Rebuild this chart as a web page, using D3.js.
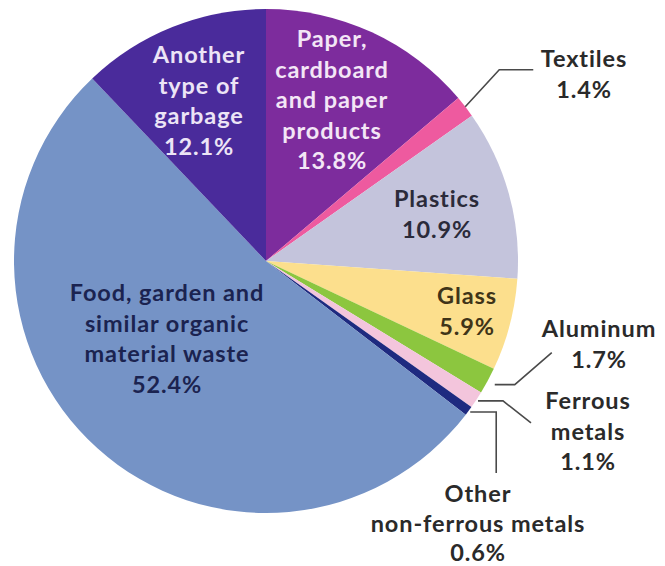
<!DOCTYPE html>
<html>
<head>
<meta charset="utf-8">
<script src="https://cdn.jsdelivr.net/npm/d3@7/dist/d3.min.js"></script>
<style>
  html, body { margin: 0; padding: 0; background: #ffffff; }
  svg { display: block; }
  text { font-family: Lato, "Open Sans", sans-serif; font-weight: bold; }
</style>
</head>
<body>
<svg id="chart" width="665" height="566"></svg>
<script>
// Waste composition, clockwise from 12 o'clock
const categories = [
  "Paper, cardboard and paper products",
  "Textiles",
  "Plastics",
  "Glass",
  "Aluminum",
  "Ferrous metals",
  "Other non-ferrous metals",
  "Food, garden and similar organic material waste",
  "Another type of garbage"
];
const shares = [13.8, 1.4, 10.9, 5.9, 1.7, 1.1, 0.6, 52.4, 12.1];
const sliceColors = ["#7d2c9d", "#ee5a9f", "#c4c4dc", "#fcdf8d", "#8cc63f", "#f3c5dc", "#1e2a80", "#7593c6", "#4a2b9b"];

// Label lines per slice
const labelLines = [
  ["Paper,", "cardboard", "and paper", "products", "13.8%"],
  ["Textiles", "1.4%"],
  ["Plastics", "10.9%"],
  ["Glass", "5.9%"],
  ["Aluminum", "1.7%"],
  ["Ferrous", "metals", "1.1%"],
  ["Other", "non-ferrous metals", "0.6%"],
  ["Food, garden and", "similar organic", "material waste", "52.4%"],
  ["Another", "type of", "garbage", "12.1%"]
];
const labelColors = ["#f3e6f6", "#2a2a2a", "#2b2b3a", "#3f3418", "#2a2a2a", "#2a2a2a", "#2a2a2a", "#1b2350", "#ece4f6"];

const svg = d3.select("#chart");
const cx = 266, cy = 261, R = 252;
const g = svg.append("g").attr("transform", `translate(${cx},${cy})`);

const pie = d3.pie().sort(null).value(d => d);
const arcs = pie(shares);
const arc = d3.arc().innerRadius(0).outerRadius(R);

g.selectAll("path.slice")
  .data(arcs)
  .join("path")
  .attr("class", "slice")
  .attr("d", arc)
  .attr("fill", (d, i) => sliceColors[i]);

// Label anchors (first-line centre), relative to the pie centre
const labelPos = [
  [66, -222],   // Paper
  [318, -202],  // Textiles
  [171, -62],   // Plastics
  [201, 35],    // Glass
  [333, 68],    // Aluminum
  [322, 140],   // Ferrous
  [212, 233],   // Other non-ferrous
  [-99, 32],    // Food
  [-67, -206]   // Another
];
const lineH = 30.5;

const labels = svg.append("g").attr("transform", `translate(${cx},${cy})`);
arcs.forEach((a, i) => {
  const [lx, ly] = labelPos[i];
  const step = i === 6 ? 29.5 : lineH;
  const t = labels.append("text")
    .attr("text-anchor", "middle")
    .attr("font-size", 23.5)
    .attr("letter-spacing", 0.9)
    .attr("fill", labelColors[i]);
  labelLines[i].forEach((line, k) => {
    t.append("tspan")
      .attr("x", lx)
      .attr("y", ly + k * step)
      .attr("dy", "0.36em")
      .text(line);
  });
});

// Leader lines for the thin slices, starting at the slice rim
const leaderPaths = {
  1: [[0, 0], [34, -37], [68, -37]],
  4: [[0, 0], [20, 0], [57, -32]],
  5: [[0, 0], [25, 0], [53, 22]],
  6: [[0, 0], [26, 0], [26, 61]]
};
const rimOffsets = { 1: 0, 4: 8, 5: 2, 6: 2 };
const line = d3.line();
Object.keys(leaderPaths).forEach(key => {
  const i = +key;
  const a = arcs[i];
  const mid = (a.startAngle + a.endAngle) / 2;
  const r0 = R + rimOffsets[i];
  const sx = Math.sin(mid) * r0, sy = -Math.cos(mid) * r0;
  labels.append("path")
    .attr("d", line(leaderPaths[i].map(p => [sx + p[0], sy + p[1]])))
    .attr("fill", "none")
    .attr("stroke", "#4a4a4a")
    .attr("stroke-width", 1.6);
});
</script>
</body>
</html>
